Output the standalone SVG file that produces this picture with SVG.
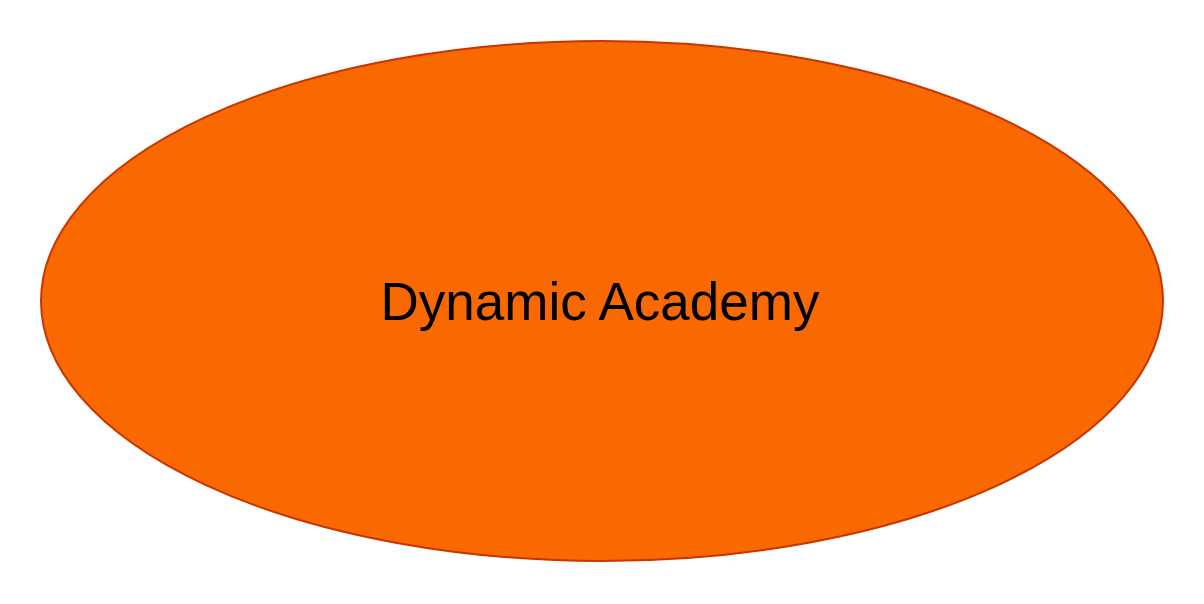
<svg xmlns="http://www.w3.org/2000/svg" width="1204" height="604" viewBox="0 0 1204 604"><style>.n{fill:#fa6800;stroke:#c73500;stroke-width:2}.t{font-family:"Liberation Sans",Arial,sans-serif;font-size:53px;fill:#000}</style><rect width="1204" height="604" fill="#fff"/><g id="connectors"/><g id="node1"><ellipse class="n" cx="602" cy="301" rx="561" ry="260"/><text class="t" x="600" y="320" text-anchor="middle">Dynamic Academy</text></g></svg>
